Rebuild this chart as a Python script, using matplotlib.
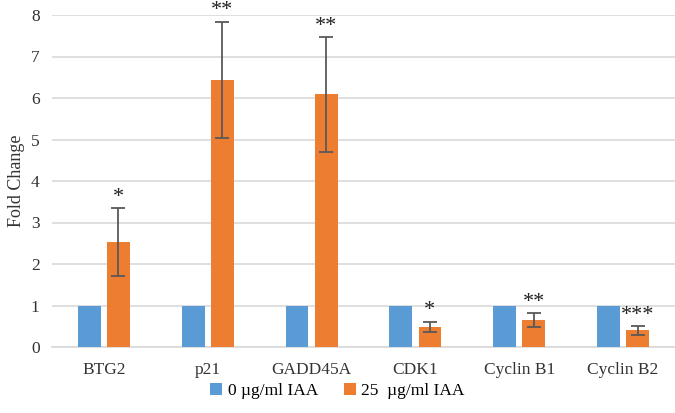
import matplotlib.pyplot as plt
import numpy as np

genes = ["BTG2", "p21", "GADD45A", "CDK1", "Cyclin B1", "Cyclin B2"]
control = [1, 1, 1, 1, 1, 1]
treated = [2.52, 6.44, 6.09, 0.48, 0.65, 0.40]
treated_err = [0.82, 1.40, 1.38, 0.13, 0.17, 0.11]
stars = ["*", "**", "**", "*", "**", "***"]

plt.rcParams["font.family"] = ["Liberation Serif", "DejaVu Serif"]

fig = plt.figure(figsize=(6.75, 4.13), dpi=100)
ax = fig.add_axes([52/675, 66/413, 623/675, 332/413])

x = np.arange(len(genes))
w = 0.22
ax.bar(x - 0.14, control, w, color="#5b9bd5", label="0 \u00b5g/ml IAA", zorder=3)
ax.bar(x + 0.14, treated, w, color="#ed7d31", label="25  \u00b5g/ml IAA", zorder=3,
       yerr=treated_err, capsize=5,
       error_kw=dict(ecolor="#595959", elinewidth=1.3, capthick=1.3))

for i in range(len(genes)):
    ax.text(x[i] + 0.14, treated[i] + treated_err[i] + 0.03, stars[i],
            ha="center", va="bottom", fontsize=16, color="#222222")

ax.set_xlim(-0.5, 5.5)
ax.set_ylim(0, 8)
ax.set_yticks(range(0, 9))
ax.set_xticks(x)
ax.set_xticklabels(genes)
ax.tick_params(axis="both", length=0, labelsize=12.5, colors="#333333")
ax.tick_params(axis="x", pad=11)
ax.tick_params(axis="y", pad=9)
ax.grid(axis="y", color="#d9d9d9", linewidth=1.2, zorder=0)
for s in ["top", "right", "left"]:
    ax.spines[s].set_visible(False)
ax.spines["bottom"].set_color("#d9d9d9")
ax.spines["bottom"].set_linewidth(1.2)
ax.set_ylabel("Fold Change", fontsize=13, color="#333333", labelpad=4)

fig.legend(loc="lower center", bbox_to_anchor=(0.5, -0.005), ncol=2, frameon=False,
           fontsize=12.5, handlelength=0.7, handleheight=0.7, handletextpad=0.3,
           columnspacing=1.5)

fig.savefig("out.png", dpi=100)
